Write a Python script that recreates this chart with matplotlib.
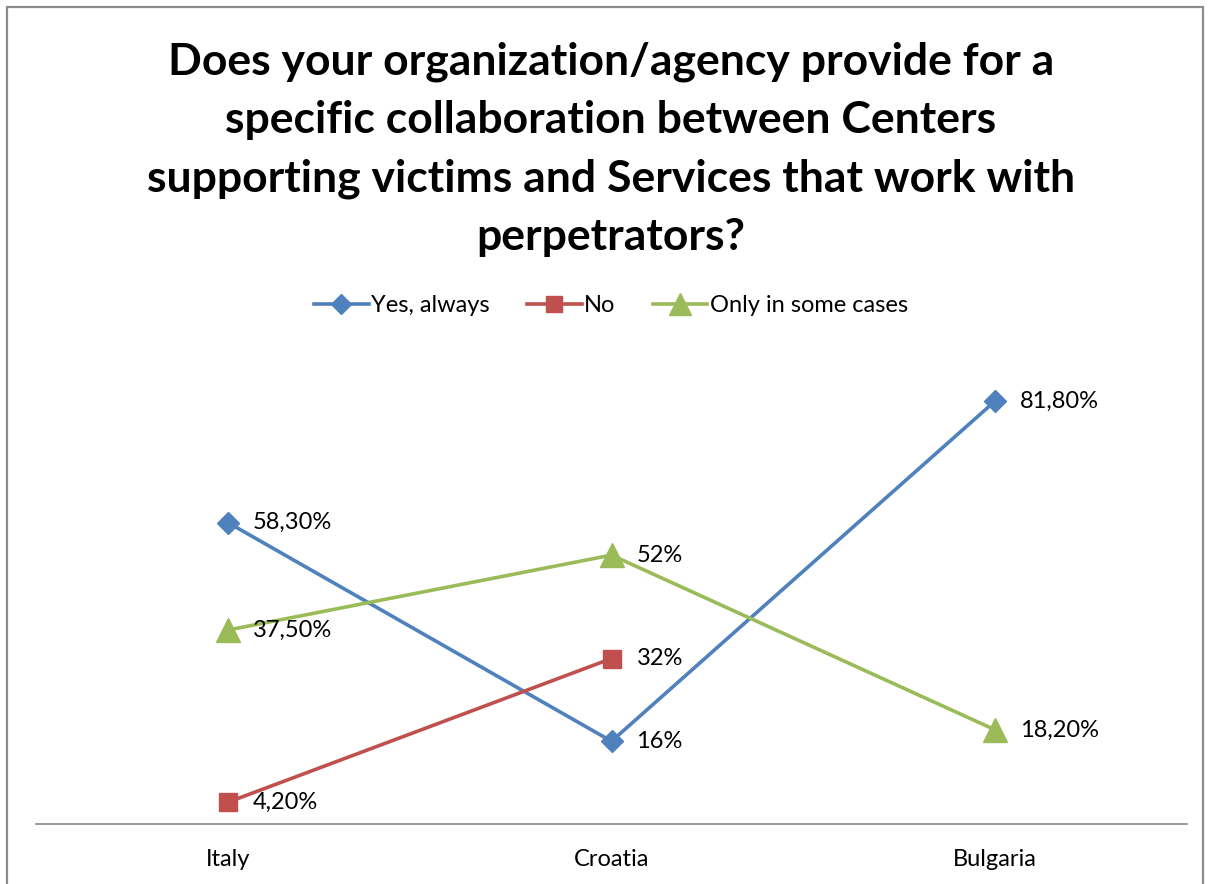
import matplotlib

matplotlib.use("Agg")

import matplotlib.pyplot as plt  # noqa: E402
from matplotlib.patches import Rectangle  # noqa: E402

plt.rcParams.update(
    {
        "font.family": ["Lato", "DejaVu Sans"],
        "figure.facecolor": "white",
        "axes.facecolor": "white",
    }
)

countries = ["Italy", "Croatia", "Bulgaria"]
yes_always = [58.3, 16.0, 81.8]
no = [4.2, 32.0]
some_cases = [37.5, 52.0, 18.2]

yes_labels = ["58,30%", "16%", "81,80%"]
no_labels = ["4,20%", "32%"]
some_labels = ["37,50%", "52%", "18,20%"]

title = (
    "Does your organization/agency provide for a\n"
    "specific collaboration between Centers\n"
    "supporting victims and Services that work with\n"
    "perpetrators?"
)

fig = plt.figure(figsize=(12.1, 8.84), dpi=100)

# thin grey frame around the chart area
fig.patches.append(
    Rectangle((7 / 1210, -0.01), 1196 / 1210, 1 - 7 / 884 + 0.01,
              transform=fig.transFigure, fill=False, edgecolor="#8c8c8c", linewidth=1.6)
)

ax = fig.add_axes([36 / 1210, 1 - 824 / 884, 1151 / 1210, (824 - 358.6) / 884])

series = [
    (yes_always, yes_labels, "Yes, always", "#4F81BD", "D", 11),
    (no, no_labels, "No", "#C0504D", "s", 13),
    (some_cases, some_labels, "Only in some cases", "#9BBB59", "^", 17),
]

for values, labels, name, color, marker, msize in series:
    xs = list(range(len(values)))
    ax.plot(xs, values, color=color, linewidth=2.6, marker=marker,
            markersize=msize, markeredgecolor=color, label=name)
    for x, v, lab in zip(xs, values, labels):
        ax.annotate(lab, (x, v), xytext=(18, 0), textcoords="offset points",
                    va="center", ha="left", fontsize=17, color="#000000")

ax.set_xlim(-0.5, 2.5)
ax.set_ylim(0, 90)
ax.set_xticks(range(len(countries)))
ax.set_xticklabels(countries, fontsize=17)
ax.tick_params(axis="x", length=0, pad=18)
ax.set_yticks([])
for side in ["top", "right", "left"]:
    ax.spines[side].set_visible(False)
ax.spines["bottom"].set_color("#868686")
ax.spines["bottom"].set_linewidth(1.2)

fig.text(0.505, 1 - 149 / 884, title, ha="center", va="center",
         fontsize=32, fontweight="bold", linespacing=1.55)

fig.legend(loc="center", bbox_to_anchor=(0.505, 1 - 306 / 884), ncol=3,
           frameon=False, fontsize=17, handlelength=2.3, handletextpad=0.1,
           columnspacing=1.6, markerscale=0.9)

fig.savefig("out.png", dpi=100)
